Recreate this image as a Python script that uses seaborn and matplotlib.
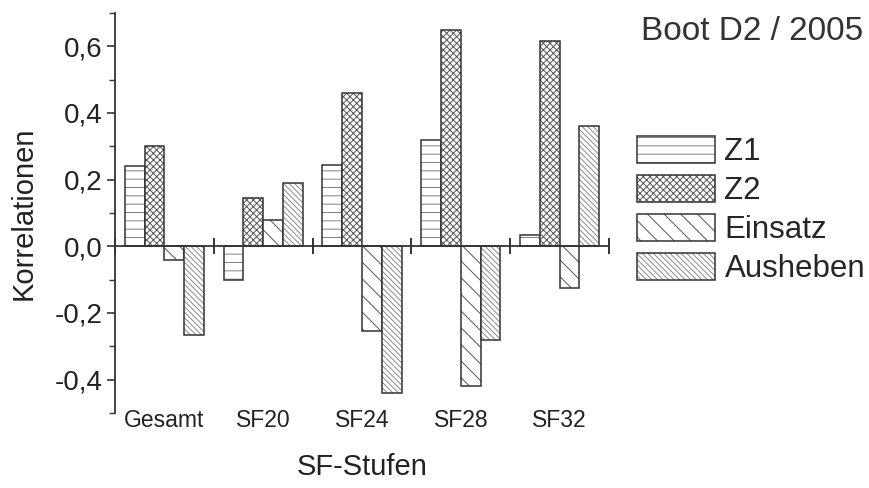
import numpy as np
import pandas as pd
import matplotlib
matplotlib.use("Agg")
import matplotlib.pyplot as plt
import matplotlib.colors as mcolors
from matplotlib.ticker import MultipleLocator
import seaborn as sns

# values
groups = ['Gesamt', 'SF20', 'SF24', 'SF28', 'SF32']
series = ['Z1', 'Z2', 'Einsatz', 'Ausheben']
z1 = [0.24, -0.10, 0.245, 0.32, 0.035]
z2 = [0.30, 0.145, 0.46, 0.648, 0.615]
einsatz = [-0.04, 0.08, -0.255, -0.42, -0.125]
ausheben = [-0.265, 0.19, -0.44, -0.28, 0.362]
y_ticks = [-0.4, -0.2, 0.0, 0.2, 0.4, 0.6]

hatches = {'Z1': '--', 'Z2': 'xxxxx', 'Einsatz': '\\\\', 'Ausheben': '\\' * 6}
hatch_colors = {'Z1': '#808080', 'Z2': '#555555', 'Einsatz': '#555555', 'Ausheben': '#8a8a8a'}
edge = '#333333'

df = pd.DataFrame({
    'Stufe': groups * len(series),
    'Reihe': np.repeat(series, len(groups)),
    'Wert': z1 + z2 + einsatz + ausheben,
})

sns.set_style('ticks')
plt.rcParams['font.family'] = ['Liberation Sans', 'DejaVu Sans']
plt.rcParams['hatch.linewidth'] = 0.7

fig = plt.figure(figsize=(8.7, 4.88), dpi=100)
ax = fig.add_axes([115 / 870, 1 - 413 / 488, (609 - 115) / 870, 400 / 488])

sns.barplot(data=df, x='Stufe', y='Wert', hue='Reihe', order=groups, hue_order=series,
            width=0.8, palette=['white'] * len(series), saturation=1, errorbar=None,
            edgecolor=edge, linewidth=1.1, legend=False, ax=ax)

# hatching per series (hatch colour set after edge colour, which resets it)
for cont, s in zip(ax.containers, series):
    for bar in cont:
        bar.set_hatch(hatches[s])
        bar.set_edgecolor(edge)
        bar._hatch_color = mcolors.to_rgba(hatch_colors[s])

# zero line with group separator ticks
ax.axhline(0, color=edge, lw=1.3, zorder=4)
bounds = np.arange(len(groups) + 1) - 0.5
ax.plot(bounds, np.zeros_like(bounds), ls='none', marker='|', ms=11, mew=1.4,
        color=edge, clip_on=False, zorder=5)

ax.set_xlim(-0.5, len(groups) - 0.5)
ax.set_ylim(-0.5, 0.7)
for sp in ['top', 'right', 'bottom']:
    ax.spines[sp].set_visible(False)
ax.spines['left'].set_color(edge)
ax.spines['left'].set_linewidth(1.3)

ax.set_yticks(y_ticks)
ax.set_yticklabels([f'{v:.1f}'.replace('.', ',') for v in y_ticks])
ax.yaxis.set_minor_locator(MultipleLocator(0.1))
ax.tick_params(axis='y', which='major', length=6, width=1.2, color=edge, labelsize=20, pad=3, labelcolor='#222222')
ax.tick_params(axis='y', which='minor', length=4, width=1.0, color=edge)
ax.tick_params(axis='x', length=0, pad=-3, labelsize=16.5, labelcolor='#222222')

ax.set_xlabel('SF-Stufen', fontsize=21, labelpad=15, color='#222222')
ax.set_ylabel('Korrelationen', fontsize=21, labelpad=12, color='#222222')

fig.text(863 / 870, 1 - 31 / 488, 'Boot D2 / 2005', ha='right', va='center', fontsize=24, color='#333333')

handles = [cont.patches[0] for cont in ax.containers]
leg = ax.legend(handles, series, loc='upper left', bbox_to_anchor=(637 / 870, 1 - 136 / 488),
                bbox_transform=fig.transFigure, frameon=False, fontsize=22.5,
                handlelength=2.5, handleheight=0.95, handletextpad=0.3, labelspacing=0.25,
                borderpad=0, borderaxespad=0)
for h, s in zip(leg.legend_handles, series):
    h._hatch_color = mcolors.to_rgba(hatch_colors[s])

fig.savefig('out.png', dpi=100)
